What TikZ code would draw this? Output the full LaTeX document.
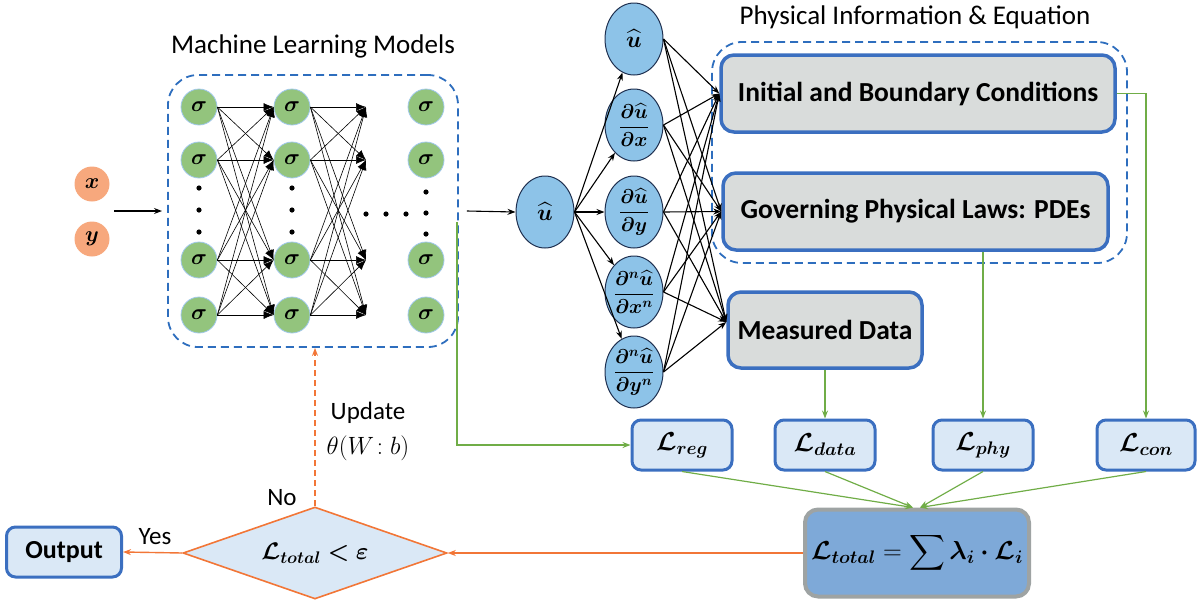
\RequirePackage{fix-cm}
\documentclass[tikz,border=0pt]{standalone}
\usepackage{amsmath}
\usepackage{bm}
\usepackage{fontspec}
\setmainfont{Carlito}
\usetikzlibrary{arrows.meta,shapes.geometric,calc}
\definecolor{bblue}{RGB}{59,111,192}
\definecolor{dblue}{RGB}{46,110,190}
\definecolor{gfill}{RGB}{217,220,219}
\definecolor{lfill}{RGB}{218,232,246}
\definecolor{tfill}{RGB}{126,169,216}
\definecolor{tgray}{RGB}{158,163,163}
\definecolor{efill}{RGB}{141,195,232}
\definecolor{eline}{RGB}{31,48,80}
\definecolor{nfill}{RGB}{147,196,125}
\definecolor{nline}{RGB}{160,200,235}
\definecolor{orng}{RGB}{242,118,55}
\definecolor{ofill}{RGB}{247,168,125}
\definecolor{grn}{RGB}{112,173,71}
\begin{document}
\begin{tikzpicture}[x=1pt,y=-1pt,
  dbox/.style={draw=dblue,line width=1.8pt,dash pattern=on 8pt off 5pt,rounded corners=30pt},
  graybox/.style={draw=bblue,line width=3.5pt,fill=gfill,rounded corners=13pt,font=\fontsize{27.5}{32}\selectfont\bfseries},
  lbox/.style={draw=bblue,line width=3pt,fill=lfill,rounded corners=9pt,minimum width=100,minimum height=50,font=\fontsize{26}{30}\selectfont},
  neuron/.style={circle,fill=nfill,draw=nline,line width=0.8pt,minimum size=36,inner sep=0,font=\fontsize{22}{26}\selectfont},
  inp/.style={circle,fill=ofill,minimum size=35,inner sep=0,font=\fontsize{22}{26}\selectfont},
  ell/.style={ellipse,fill=efill,draw=eline,line width=1pt,minimum width=58,minimum height=72,inner sep=0,font=\fontsize{23}{26}\selectfont},
  fr/.style={font=\fontsize{20}{24}\selectfont},
  nnarr/.style={line width=0.6pt,-{Latex[length=10pt,width=8pt]}},
  blk/.style={line width=1.1pt,-{Stealth[length=8pt,width=6pt]}},
  garr/.style={draw=grn,line width=1.2pt,-{Stealth[length=8pt,width=6pt]}},
  oarr/.style={draw=orng,line width=1.4pt,-{Stealth[length=8pt,width=6pt]}},
  lbl/.style={font=\fontsize{27}{32}\selectfont},
  sml/.style={font=\fontsize{25}{30}\selectfont}
]
\useasboundingbox (0,0) rectangle (1197,603);

% titles
\node[lbl] (t1) at (313,46) {Machine Learning Models};
\node[lbl] (t2) at (915,17) {Physical Information \& Equation};

% dashed group boxes
\node[dbox,minimum width=290,minimum height=272] (ml) at (313,211) {};
\node[dbox,minimum width=415,minimum height=221] (pb) at (919.5,152.5) {};

% inputs
\node[inp] (x) at (92,184) {$\bm{x}$};
\node[inp] (y) at (92,239) {$\bm{y}$};
\coordinate (a1) at (114,211);
\coordinate (a2) at (162,211);
\draw[blk] (a1) -- (a2);

% neurons
\foreach \c/\xx in {1/199,2/292,3/426}{
  \foreach \r/\yy in {1/107,2/160,3/260,4/315}{
    \node[neuron] (n\c\r) at (\xx,\yy) {$\bm{\sigma}$};
  }
}
\foreach \xx in {199,292}{
  \foreach \yy in {188,210,232}{
    \fill (\xx,\yy) circle (2.6pt);
  }
}
\foreach \yy in {192,213,234}{\fill (426,\yy) circle (2.6pt);}
\foreach \xx in {366,386,406}{\fill (\xx,214) circle (2.6pt);}
\foreach \j/\yy in {1/107,2/160,3/260,4/315}{\coordinate (t\j) at (366,\yy);}
\foreach \i in {1,2,3,4}{
  \foreach \j in {1,2,3,4}{
    \draw[nnarr] (n1\i.east) -- (n2\j.west);
    \draw[nnarr] (n2\i.east) -- (t\j);
  }
}

% u hat and derivatives
\node[ell] (u0) at (545,212) {$\widehat{\bm{u}}$};
\draw[blk] ([xshift=8pt]ml.east) -- (u0.west);
\node[ell] (d1) at (634,39) {$\widehat{\bm{u}}$};
\node[ell,fr] (d2) at (634,125) {$\dfrac{\bm{\partial}\widehat{\bm{u}}}{\bm{\partial x}}$};
\node[ell,fr] (d3) at (634,212) {$\dfrac{\bm{\partial}\widehat{\bm{u}}}{\bm{\partial y}}$};
\node[ell,fr] (d4) at (634,292) {$\dfrac{\bm{\partial}^{\bm n}\widehat{\bm{u}}}{\bm{\partial x}^{\bm n}}$};
\node[ell,fr] (d5) at (634,372) {$\dfrac{\bm{\partial}^{\bm n}\widehat{\bm{u}}}{\bm{\partial y}^{\bm n}}$};
\foreach \k in {1,...,5}{\draw[blk] (u0.east) -- (d\k);}

% physics boxes
\node[graybox,minimum width=394,minimum height=77] (ibc) at (918,93.5) {Initial and Boundary Conditions};
\node[graybox,minimum width=385,minimum height=77] (gpl) at (915.5,211.5) {Governing Physical Laws: PDEs};
\node[graybox,minimum width=194,minimum height=76] (md) at (825,330) {Measured Data};
\foreach \k in {1,...,5}{
  \draw[blk] (d\k.east) -- (ibc.west);
  \draw[blk] (d\k.east) -- (gpl.west);
  \draw[blk] (d\k.east) -- ([yshift=8pt]md.west);
}

% loss boxes
\node[lbox] (lreg) at (682,445) {$\bm{\mathcal{L}_{reg}}$};
\node[lbox] (ldata) at (825,445) {$\bm{\mathcal{L}_{data}}$};
\node[lbox] (lphy) at (983,445) {$\bm{\mathcal{L}_{phy}}$};
\node[lbox,minimum width=98] (lcon) at (1146,445) {$\bm{\mathcal{L}_{con}}$};
\node[draw=tgray,line width=4pt,fill=tfill,rounded corners=13pt,minimum width=224,minimum height=87,font=\fontsize{26}{30}\selectfont] (ltot) at (917,553) {$\bm{\mathcal{L}_{total}} = \displaystyle\sum \bm{\lambda_i\cdot\mathcal{L}_i}$};

\coordinate (g0) at (457,222);
\draw[garr] (g0) |- (lreg.west);
\draw[garr] (md.south) -- (ldata.north);
\draw[garr] (lphy.north |- gpl.south) -- (lphy.north);
\draw[garr] (ibc.east) -| (lcon.north);
\draw[garr] (lreg.south) -- ([xshift=-4pt]ltot.north);
\draw[garr] (ldata.south) -- ([xshift=-4pt]ltot.north);
\draw[garr] (lphy.south) -- ([xshift=3pt]ltot.north);
\draw[garr] (lcon.south) -- ([xshift=3pt]ltot.north);

% decision
\node[diamond,draw=orng,line width=1.6pt,fill=lfill,aspect=2.87,minimum width=264,minimum height=92,inner sep=0,font=\fontsize{24}{28}\selectfont] (dia) at (315,553) {$\bm{\mathcal{L}_{total}<\varepsilon}$};
\node[draw=bblue,line width=3pt,fill=lfill,rounded corners=9pt,minimum width=115,minimum height=50,font=\fontsize{26}{30}\selectfont\bfseries] (out) at (64,552) {Output};
\draw[oarr] (ltot.west) -- (dia.east);
\draw[oarr] (dia.west) -- (out.east);
\draw[oarr,dashed,dash pattern=on 6pt off 4pt] (dia.north) -- (dia.north |- ml.south);
\node[sml] (yes) at (155,537) {Yes};
\node[sml] (no) at (282,498) {No};
\node[sml] (upd) at (368,413) {Update};
\node[sml] (th) at (368,448) {$\theta(W\!:b)$};
\end{tikzpicture}
\end{document}
